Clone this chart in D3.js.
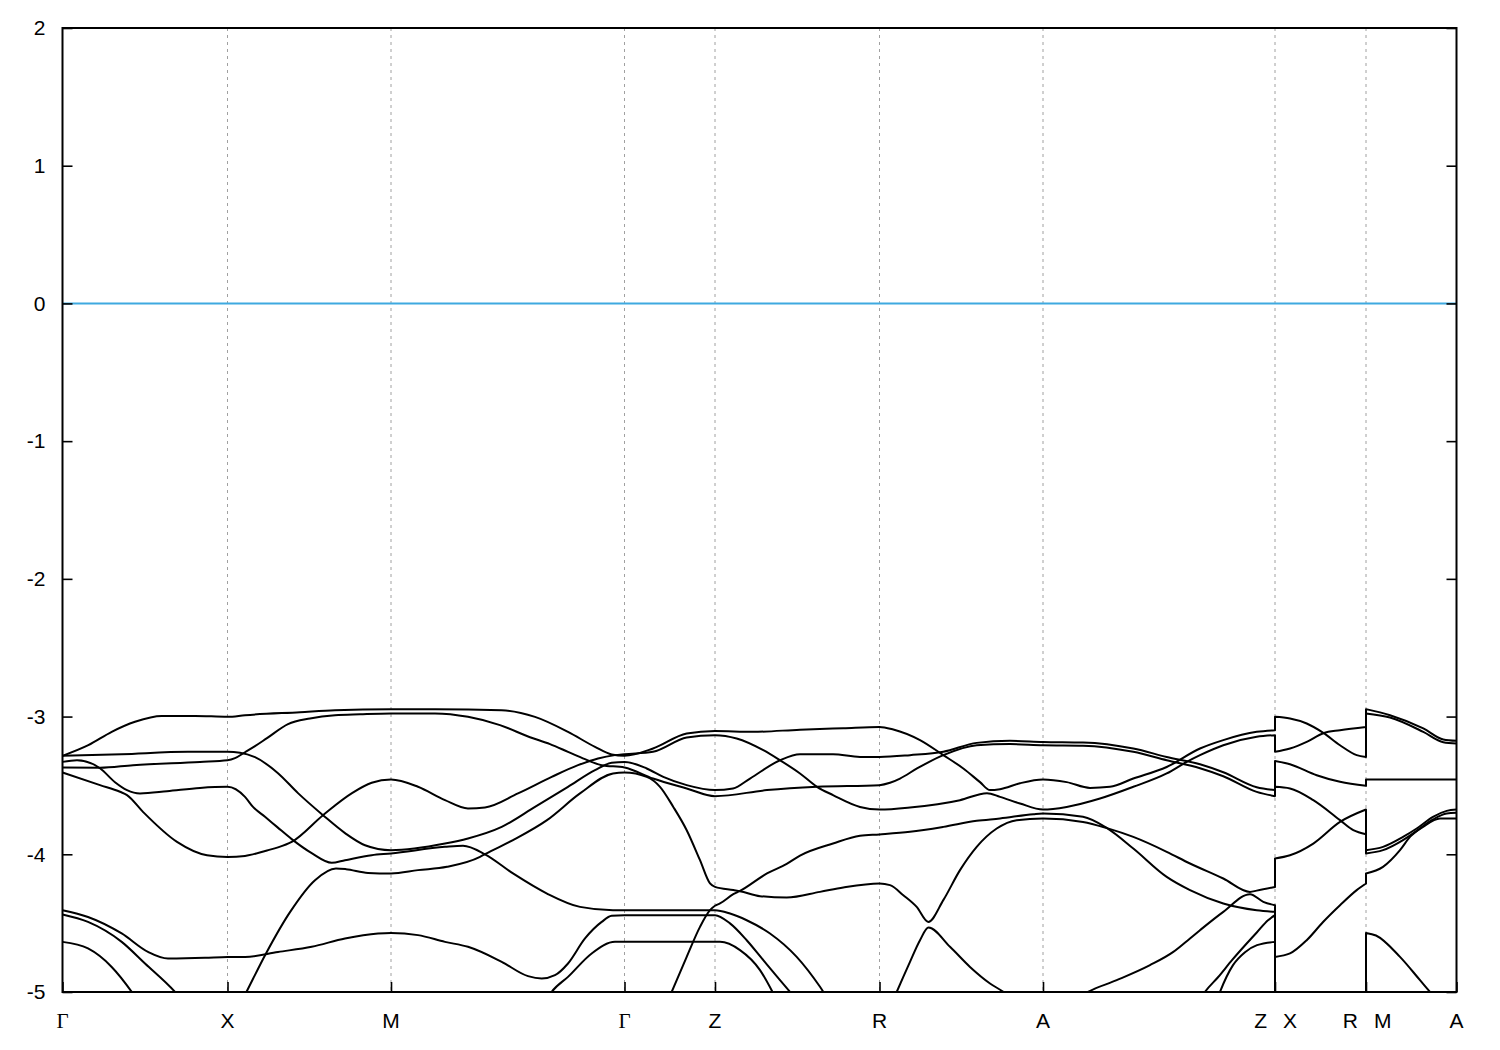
<!DOCTYPE html>
<html><head><meta charset="utf-8">
<script src="https://cdn.jsdelivr.net/npm/d3@7"></script>
<style>body{margin:0;background:#fff}</style>
</head><body><svg id="c" width="1500" height="1050"></svg>
<script>
// high-symmetry path positions (k along path) and labels
const kTicks = [0, 1.65, 3.285, 5.62, 6.525, 8.17, 9.805, 12.125, 13.035, 13.94];
const kLabels = ["Γ", "X", "M", "Γ", "Z", "R", "A", "Z|X", "R|M", "A"];
const eTicks = [2, 1, 0, -1, -2, -3, -4, -5];
const eRange = [-5, 2];
const fermiLevel = [0];

// bands as [k, E] ; repeated k = discontinuity (Z|X, R|M)
const band1 = [[0,-3.285],[0.258,-3.208],[0.492,-3.111],[0.725,-3.038],[0.992,-2.995],[1.325,-2.995],[1.65,-3.002],
[1.825,-2.990],[2.375,-2.968],[2.725,-2.954],[3.285,-2.946],
[3.725,-2.946],[4.392,-2.954],[4.725,-3.002],[5.055,-3.111],[5.325,-3.220],[5.492,-3.275],[5.62,-3.285],
[5.905,-3.232],[6.242,-3.123],[6.525,-3.104],
[6.905,-3.111],[7.375,-3.095],[7.808,-3.084],[8.17,-3.075],
[8.308,-3.094],[8.575,-3.171],[8.808,-3.280],[9.008,-3.377],[9.175,-3.476],[9.275,-3.534],[9.375,-3.527],[9.575,-3.484],[9.805,-3.457],
[10.042,-3.476],[10.275,-3.518],[10.475,-3.510],[10.708,-3.450],[11.042,-3.366],[11.375,-3.232],[11.608,-3.171],[11.942,-3.111],[12.125,-3.099],
[12.125,-3.002],[12.275,-3.014],[12.442,-3.050],[12.608,-3.118],[12.775,-3.208],[12.942,-3.280],[13.035,-3.293],
[13.035,-2.977],[13.275,-3.007],[13.608,-3.111],[13.808,-3.186],[13.94,-3.195]];

const band2 = [[0,-3.406],[0.375,-3.498],[0.575,-3.546],[0.645,-3.570],[0.805,-3.692],[1.145,-3.910],[1.445,-4.007],[1.65,-4.019],
[1.825,-4.012],[2.045,-3.972],[2.155,-3.950],[2.292,-3.910],[2.605,-3.716],[2.895,-3.556],[3.092,-3.481],[3.285,-3.457],
[3.555,-3.510],[3.825,-3.607],[4.055,-3.667],[4.225,-3.660],[4.555,-3.558],[4.892,-3.438],[5.155,-3.353],[5.355,-3.304],[5.525,-3.280],[5.62,-3.273],
[5.905,-3.256],[6.242,-3.152],[6.525,-3.135],
[6.742,-3.159],[7.008,-3.244],[7.175,-3.317],[7.375,-3.413],[7.545,-3.510],[7.705,-3.570],[7.975,-3.656],[8.17,-3.675],
[8.475,-3.660],[8.975,-3.607],[9.245,-3.556],[9.375,-3.583],[9.575,-3.631],[9.805,-3.675],
[10.042,-3.656],[10.375,-3.595],[10.708,-3.510],[11.042,-3.413],[11.242,-3.329],[11.375,-3.280],[11.608,-3.208],[11.942,-3.147],[12.125,-3.135],
[12.125,-3.256],[12.275,-3.232],[12.442,-3.184],[12.608,-3.121],[12.775,-3.099],[13.035,-3.075],
[13.035,-2.946],[13.275,-2.990],[13.608,-3.086],[13.808,-3.166],[13.94,-3.176]];

const band3 = [[0,-3.285],[0.592,-3.273],[1.255,-3.256],[1.65,-3.256],
[1.775,-3.262],[1.925,-3.295],[2.155,-3.411],[2.355,-3.556],[2.605,-3.716],[2.825,-3.846],[3.025,-3.934],[3.285,-3.970],
[3.825,-3.922],[4.055,-3.885],[4.392,-3.801],[4.725,-3.656],[5.055,-3.510],[5.325,-3.389],[5.492,-3.336],[5.62,-3.329],
[5.842,-3.377],[6.008,-3.438],[6.242,-3.498],[6.525,-3.534],
[6.705,-3.522],[6.875,-3.450],[7.175,-3.317],[7.375,-3.273],[7.705,-3.273],[7.975,-3.293],[8.17,-3.293],
[8.475,-3.280],[8.808,-3.256],[9.142,-3.191],[9.475,-3.176],[9.805,-3.184],
[10.205,-3.188],[10.708,-3.232],[11.042,-3.293],[11.375,-3.346],[11.608,-3.404],[11.942,-3.513],[12.125,-3.534],
[12.125,-3.322],[12.275,-3.346],[12.542,-3.426],[12.775,-3.474],[13.035,-3.503],
[13.035,-3.457],[13.94,-3.457]];

const band4 = [[0,-3.370],[0.375,-3.372],[0.705,-3.353],[1.375,-3.329],[1.65,-3.317],
[1.725,-3.302],[1.825,-3.259],[1.925,-3.215],[2.045,-3.157],[2.255,-3.055],[2.475,-3.014],[2.725,-2.990],[2.975,-2.983],[3.285,-2.977],
[3.725,-2.977],[4.055,-3.002],[4.375,-3.062],[4.675,-3.150],[4.875,-3.200],[5.055,-3.256],[5.225,-3.309],[5.392,-3.353],[5.62,-3.370],
[5.905,-3.450],[6.242,-3.522],[6.525,-3.578],
[7.045,-3.534],[7.545,-3.510],[8.17,-3.498],
[8.275,-3.481],[8.375,-3.450],[8.545,-3.377],[8.808,-3.280],[9.142,-3.208],[9.475,-3.200],[9.805,-3.208],
[10.205,-3.211],[10.708,-3.256],[11.042,-3.317],[11.375,-3.375],[11.608,-3.433],[11.942,-3.547],[12.125,-3.578],
[12.125,-3.510],[12.275,-3.522],[12.508,-3.607],[12.775,-3.752],[12.908,-3.825],[13.035,-3.854],
[13.035,-3.994],[13.205,-3.970],[13.405,-3.897],[13.542,-3.830],[13.705,-3.747],[13.842,-3.704],[13.94,-3.699]];

const band5 = [[0,-6.0],[0.9,-5.75],[1.65,-5.27],
[1.835,-5.006],[2.035,-4.720],[2.275,-4.420],[2.525,-4.188],[2.735,-4.103],[2.835,-4.108],[3.055,-4.135],[3.285,-4.139],
[3.555,-4.115],[3.845,-4.091],[4.175,-4.019],[4.225,-3.999],[4.505,-3.897],[4.845,-3.752],[5.175,-3.558],[5.505,-3.413],[5.62,-3.406],
[5.842,-3.438],[5.975,-3.510],[6.108,-3.656],[6.242,-3.825],[6.375,-4.043],[6.475,-4.212],[6.525,-4.237],
[6.708,-4.260],[6.775,-4.268],[6.975,-4.304],[7.242,-4.314],[7.575,-4.273],[7.808,-4.241],[8.17,-4.212],
[8.275,-4.224],[8.408,-4.297],[8.542,-4.382],[8.658,-4.491],[8.808,-4.333],[8.975,-4.115],[9.142,-3.946],[9.342,-3.813],[9.542,-3.752],[9.805,-3.740],
[10.205,-3.765],[10.445,-3.810],[10.708,-3.874],[11.042,-3.982],[11.275,-4.067],[11.608,-4.176],[11.875,-4.273],[11.942,-4.264],[12.125,-4.237],
[12.125,-4.030],[12.275,-4.007],[12.508,-3.922],[12.775,-3.765],[13.035,-3.675],
[13.035,-3.970],[13.205,-3.946],[13.405,-3.874],[13.542,-3.813],[13.705,-3.728],[13.842,-3.685],[13.94,-3.675]];

const band6 = [[0,-3.329],[0.145,-3.317],[0.375,-3.375],[0.525,-3.477],[0.645,-3.534],[0.775,-3.558],[1.045,-3.542],[1.375,-3.518],[1.65,-3.510],
[1.825,-3.583],[1.905,-3.656],[2.025,-3.728],[2.145,-3.801],[2.292,-3.890],[2.492,-3.992],[2.692,-4.062],[2.825,-4.043],[3.092,-4.007],[3.285,-3.994],
[3.825,-3.946],[4.005,-3.938],[4.225,-4.000],[4.505,-4.139],[4.845,-4.285],[5.175,-4.382],[5.505,-4.406],[5.62,-4.406],
[6.525,-4.406],
[6.675,-4.430],[6.842,-4.479],[7.075,-4.575],[7.342,-4.745],[7.575,-4.962],[7.7,-5.1],[8.17,-5.3],
[8.342,-5.0],[8.475,-4.781],[8.575,-4.624],[8.66,-4.532],[8.875,-4.672],[9.075,-4.818],[9.275,-4.938],[9.408,-4.999],[9.6,-5.12],[9.805,-5.15],
[10.0,-5.12],[10.255,-4.999],[10.542,-4.914],[10.875,-4.805],[11.108,-4.709],[11.275,-4.611],[11.375,-4.551],[11.608,-4.418],[11.875,-4.290],[12.008,-4.345],[12.125,-4.370],
[12.125,-4.745],[12.275,-4.720],[12.442,-4.624],[12.608,-4.490],[12.775,-4.370],[12.942,-4.260],[13.035,-4.212],
[13.035,-4.139],[13.205,-4.091],[13.375,-3.970],[13.475,-3.874],[13.605,-3.801],[13.775,-3.740],[13.94,-3.740]];

const band7 = [[0,-4.406],[0.255,-4.455],[0.592,-4.575],[0.855,-4.709],[1.055,-4.757],[1.425,-4.752],[1.65,-4.745],
[1.825,-4.745],[2.155,-4.709],[2.492,-4.672],[2.825,-4.611],[3.155,-4.575],[3.285,-4.571],
[3.555,-4.587],[3.825,-4.636],[4.055,-4.672],[4.392,-4.781],[4.655,-4.885],[4.792,-4.902],[4.925,-4.878],[5.055,-4.793],[5.225,-4.611],[5.392,-4.491],[5.492,-4.447],[5.62,-4.442],
[6.525,-4.442],
[6.675,-4.502],[6.842,-4.624],[7.008,-4.769],[7.175,-4.914],[7.275,-4.999],[7.45,-5.15],[8.17,-5.6],
[9.805,-5.9],
[11.2,-5.3],[11.425,-4.999],[11.555,-4.893],[11.695,-4.769],[11.945,-4.566],[12.055,-4.479],[12.125,-4.442],
[12.125,-5.55],[13.035,-5.5],
[13.035,-5.6],[13.94,-5.6]];

const band8 = [[0,-4.437],[0.255,-4.491],[0.592,-4.636],[0.825,-4.793],[1.125,-4.999],[1.35,-5.2],[1.65,-5.5],
[3.285,-5.5],
[4.4,-5.45],[4.775,-5.14],[4.892,-4.999],[5.055,-4.890],[5.292,-4.720],[5.525,-4.636],[5.62,-4.636],
[6.575,-4.636],[6.775,-4.696],[6.975,-4.841],[7.105,-5.006],[7.3,-5.3],[8.17,-5.8],
[9.805,-6.0],
[11.4,-5.4],[11.575,-4.999],[11.705,-4.805],[11.825,-4.711],[11.945,-4.660],[12.125,-4.636],
[12.125,-5.8],[13.035,-5.8],
[13.035,-5.9],[13.94,-5.9]];

const band9 = [[0,-4.636],[0.255,-4.684],[0.492,-4.818],[0.692,-4.999],[0.95,-5.3],[1.65,-5.8],
[3.285,-5.9],
[5.62,-5.8],
[5.95,-5.25],[6.092,-4.999],[6.242,-4.745],[6.375,-4.527],[6.475,-4.406],[6.525,-4.374],
[6.575,-4.357],[6.708,-4.290],[6.775,-4.266],[7.045,-4.139],[7.242,-4.070],[7.375,-4.010],[7.705,-3.922],[7.975,-3.866],[8.17,-3.856],
[8.475,-3.837],[8.808,-3.801],[9.142,-3.757],[9.375,-3.740],[9.708,-3.709],[9.805,-3.704],
[10.205,-3.728],[10.445,-3.810],[10.708,-3.958],[11.042,-4.164],[11.275,-4.260],[11.608,-4.357],[11.942,-4.406],[12.125,-4.418],
[12.125,-5.3],[13.035,-5.3],
[13.035,-4.571],[13.135,-4.590],[13.375,-4.745],[13.575,-4.914],[13.675,-4.999],[13.94,-5.2]];

const bands = [band1, band2, band3, band4, band5, band6, band7, band8, band9];

const svg = d3.select("#c");
const L = 62.5, R = 1456.5, T = 28, B = 992;
const x = d3.scaleLinear().domain([kTicks[0], kTicks[kTicks.length-1]]).range([L, R]);
const y = d3.scaleLinear().domain(eRange).range([B, T]);

svg.append("rect").attr("width",1500).attr("height",1050).attr("fill","#fff");

// grid
svg.append("g").selectAll("line").data(kTicks.slice(1,-1)).join("line")
  .attr("x1",d=>x(d)).attr("x2",d=>x(d)).attr("y1",T).attr("y2",B)
  .attr("stroke","#a0a0a0").attr("stroke-width",1).attr("stroke-dasharray","3,4");

svg.append("defs").append("clipPath").attr("id","clip").append("rect")
  .attr("x",L).attr("y",T).attr("width",R-L).attr("height",B-T);

// fermi line
svg.append("g").attr("clip-path","url(#clip)").selectAll("line").data(fermiLevel).join("line")
  .attr("x1",L).attr("x2",R).attr("y1",d=>y(d)).attr("y2",d=>y(d))
  .attr("stroke","#3fa9e0").attr("stroke-width",2);

// bands
const lineGen = d3.line().x(d=>x(d[0])).y(d=>y(d[1])).curve(d3.curveMonotoneX);
function bandPath(pts){
  const pieces=[]; let cur=[pts[0]];
  for(let i=1;i<pts.length;i++){
    if(pts[i][0]===pts[i-1][0]){pieces.push(cur);cur=[pts[i]];} else cur.push(pts[i]);
  }
  pieces.push(cur);
  return pieces.map((p,i)=>{const s=lineGen(p); return i? "L"+s.slice(1):s;}).join("");
}
svg.append("g").attr("clip-path","url(#clip)").selectAll("path").data(bands).join("path")
  .attr("d",bandPath).attr("fill","none").attr("stroke","#000").attr("stroke-width",2)
  .attr("stroke-linejoin","round");

// axes (ticks inward)
const font = "'Liberation Sans', Arial, sans-serif";
const ax = svg.append("g").attr("transform",`translate(${L},0)`)
  .call(d3.axisLeft(y).tickValues(eTicks).tickSize(-10).tickPadding(17).tickFormat(d=>String(d)));
ax.select(".domain").remove();
ax.selectAll("text").attr("font-family",font).attr("font-size",21).attr("fill","#000");
ax.selectAll("line").attr("stroke","#000").attr("stroke-width",1.6);
const axr = svg.append("g").attr("transform",`translate(${R},0)`)
  .call(d3.axisRight(y).tickValues(eTicks).tickSize(-10).tickFormat(""));
axr.select(".domain").remove();
axr.selectAll("line").attr("stroke","#000").attr("stroke-width",1.6);
const axb = svg.append("g").attr("transform",`translate(0,${B})`)
  .call(d3.axisBottom(x).tickValues(kTicks).tickSize(-10).tickFormat(""));
axb.select(".domain").remove();
axb.selectAll("line").attr("stroke","#000").attr("stroke-width",1.6);

// x labels
const lab = svg.append("g").attr("font-size",21).attr("fill","#000");
kTicks.forEach((k,i)=>{
  const parts = kLabels[i].split("|");
  const px = x(k);
  if(parts.length===1){
    lab.append("text").attr("x",px).attr("y",1028).attr("text-anchor","middle")
      .attr("font-family", parts[0]==="Γ" ? "'Liberation Serif', serif" : font).text(parts[0]);
  } else {
    lab.append("text").attr("x",px-8).attr("y",1028).attr("text-anchor","end").attr("font-family",font).text(parts[0]);
    lab.append("text").attr("x",px+8).attr("y",1028).attr("text-anchor","start").attr("font-family",font).text(parts[1]);
  }
});

// frame
svg.append("rect").attr("x",L).attr("y",T).attr("width",R-L).attr("height",B-T)
  .attr("fill","none").attr("stroke","#000").attr("stroke-width",2);
</script></body></html>
